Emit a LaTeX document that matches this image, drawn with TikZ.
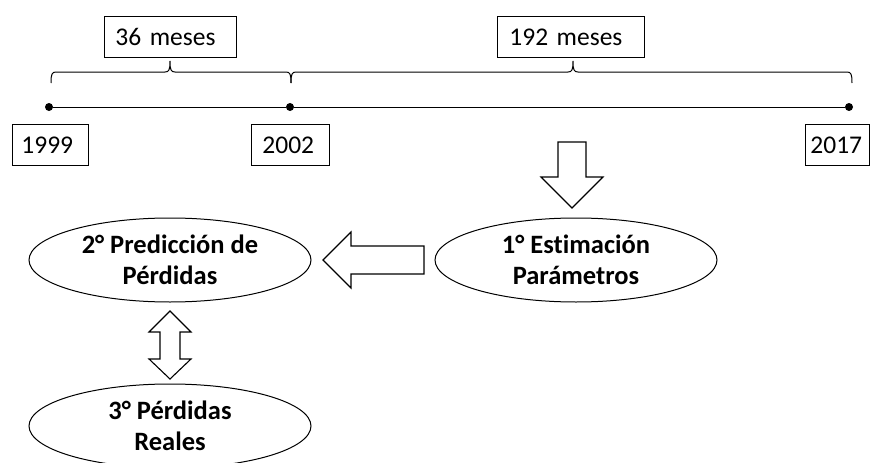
\documentclass[tikz,border=0pt]{standalone}
\usepackage{fontspec}
\setmainfont[Ligatures=NoCommon]{Carlito}
\usetikzlibrary{shapes.geometric}
\begin{document}
\begin{tikzpicture}[x=1pt,y=-1pt,
  lbl/.style={draw, line width=0.9pt, anchor=north west, minimum height=41pt, align=left,
    font=\fontsize{25.5}{30}\selectfont, inner ysep=0pt},
  oval/.style={draw, ellipse, line width=1pt, minimum width=282pt, minimum height=84pt, inner sep=0pt,
    align=center, font=\fontsize{26.5}{31}\selectfont\bfseries},
  blockarrow/.style={draw, line width=1.1pt, fill=white, line join=miter},
  dot/.style={circle, fill=black, inner sep=0pt, minimum size=8pt}]
\useasboundingbox (0,0) rectangle (871,463);
% timeline
\node[dot] (d1) at (49,107) {};
\node[dot] (d2) at (290,107) {};
\node[dot] (d3) at (849,107) {};
\draw[line width=1pt] (d1) -- (d2) -- (d3);
% labels
\node[lbl, inner xsep=11pt, text width=110pt] (m36) at (104,16) {36 meses};
\node[lbl, inner xsep=12pt, text width=123pt] (m192) at (497,16) {192 meses};
\node[lbl, inner xsep=9pt, text width=58pt] (y1999) at (12,124) {1999};
\node[lbl, inner xsep=11pt, text width=56pt] (y2002) at (251,124) {2002};
\node[lbl, inner xsep=5pt, text width=54pt] (y2017) at (805,124) {2017};
% braces
\coordinate (bA) at (51,83);
\coordinate (bB) at (291,83);
\coordinate (bC) at (852,83);
\coordinate (tA) at (170,61);
\coordinate (tB) at (573,61);
\draw[line width=1pt] (bA) .. controls (51,74) and (52,72) .. (56,72) -- (165,72)
  .. controls (169,72) and (170,70) .. (tA)
  .. controls (170,70) and (171,72) .. (175,72) -- (286,72)
  .. controls (290,72) and (291,74) .. (bB);
\draw[line width=1pt] (bB) .. controls (291,74) and (292,72) .. (296,72) -- (568,72)
  .. controls (572,72) and (573,70) .. (tB)
  .. controls (573,70) and (574,72) .. (578,72) -- (847,72)
  .. controls (851,72) and (852,74) .. (bC);
% ellipses
\node[oval] (e1) at (576,260) {1° Estimación\\Parámetros};
\node[oval] (e2) at (170,260) {2° Predicción de\\Pérdidas};
\node[oval] (e3) at (170,426) {3° Pérdidas\\Reales};
% down arrow
\draw[blockarrow] (558,142) -- (586,142) -- (586,177) -- (603,177) -- (572,208) -- (541,177) -- (558,177) -- cycle;
% left arrow
\draw[blockarrow] (424,246) -- (424,274) -- (351,274) -- (351,288) -- (323,260) -- (351,232) -- (351,246) -- cycle;
% double arrow
\draw[blockarrow] (170,311) -- (191,332) -- (180,332) -- (180,359) -- (191,359) -- (170,379) -- (149,359) -- (160,359) -- (160,332) -- (149,332) -- cycle;
\end{tikzpicture}
\end{document}
